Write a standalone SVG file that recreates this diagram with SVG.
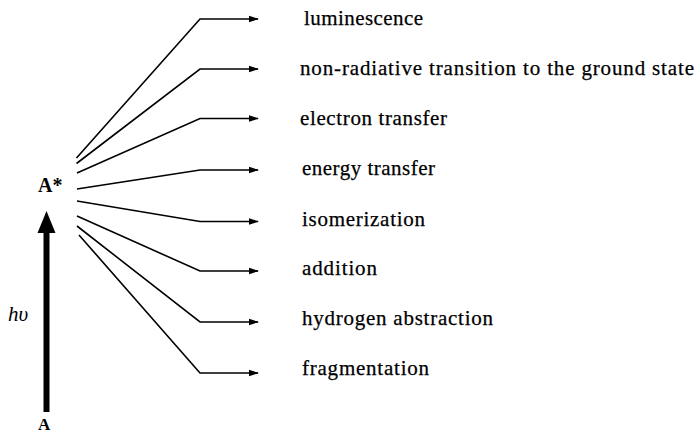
<svg xmlns="http://www.w3.org/2000/svg" width="697" height="433" viewBox="0 0 697 433">
<style>
.c{fill:none;stroke:#000;stroke-width:1.6;stroke-linejoin:miter}
.t{font-family:"Liberation Serif","Times New Roman",serif;font-size:21px;fill:#000;stroke:#000;stroke-width:0.25}
.b{font-family:"Liberation Serif","Times New Roman",serif;font-size:20px;font-weight:bold;fill:#000}
.i{font-family:"Liberation Serif","Times New Roman",serif;font-size:21px;font-style:italic;fill:#000}
</style>
<defs>
<marker id="ah" markerWidth="10" markerHeight="8" refX="9" refY="4" orient="auto" markerUnits="userSpaceOnUse">
<path d="M0,0.8 L10,4 L0,7.2 Z" fill="#000"/>
</marker>
</defs>
<g id="connectors">
<polyline class="c" points="76.5,158 200,19 258,19" marker-end="url(#ah)"/>
<polyline class="c" points="76.5,163.5 200,69 258,69" marker-end="url(#ah)"/>
<polyline class="c" points="77,173 200,118.5 258,118.5" marker-end="url(#ah)"/>
<polyline class="c" points="77,189 200,170 258,170" marker-end="url(#ah)"/>
<polyline class="c" points="77,201 200,221.5 258,221.5" marker-end="url(#ah)"/>
<polyline class="c" points="77,216 200,271 258,271" marker-end="url(#ah)"/>
<polyline class="c" points="77,226 200,322 258,322" marker-end="url(#ah)"/>
<polyline class="c" points="79,235 200,373 258,373" marker-end="url(#ah)"/>
<g id="excitation">
<rect x="43.5" y="228" width="6" height="184" fill="#000"/>
<path d="M46.5,211 L55.5,233 L37.5,233 Z" fill="#000"/>
</g>
</g>
<g id="node-Astar"><text class="b" x="38" y="192">A*</text></g>
<g id="node-A"><text class="b" x="38" y="430" style="font-size:17px">A</text></g>
<g id="label-hv"><text class="i" x="8" y="321">hυ</text></g>
<g id="n1"><text class="t" x="304" y="25" textLength="119" lengthAdjust="spacing">luminescence</text></g>
<g id="n2"><text class="t" x="300" y="75" textLength="394" lengthAdjust="spacing">non-radiative transition to the ground state</text></g>
<g id="n3"><text class="t" x="300" y="125" textLength="147" lengthAdjust="spacing">electron transfer</text></g>
<g id="n4"><text class="t" x="302" y="175" textLength="133" lengthAdjust="spacing">energy transfer</text></g>
<g id="n5"><text class="t" x="302" y="226" textLength="123" lengthAdjust="spacing">isomerization</text></g>
<g id="n6"><text class="t" x="302" y="275" textLength="75" lengthAdjust="spacing">addition</text></g>
<g id="n7"><text class="t" x="302" y="325" textLength="191" lengthAdjust="spacing">hydrogen abstraction</text></g>
<g id="n8"><text class="t" x="302" y="375" textLength="127" lengthAdjust="spacing">fragmentation</text></g>
</svg>
